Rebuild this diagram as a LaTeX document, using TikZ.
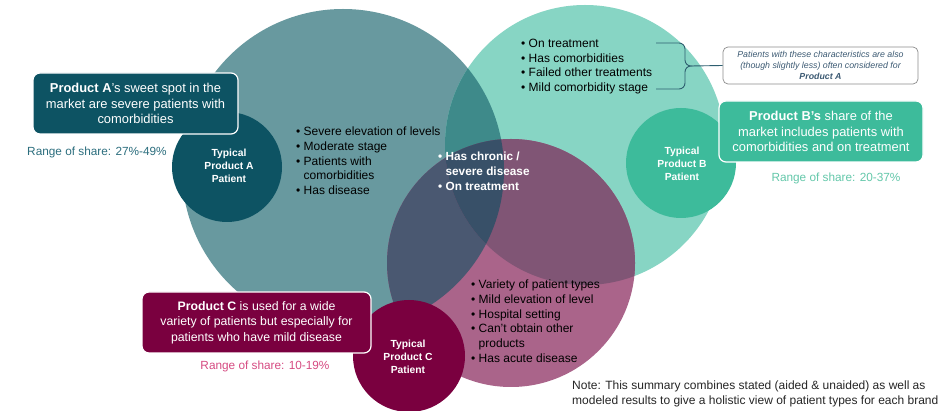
\documentclass[tikz,border=0pt]{standalone}
\usepackage{fontspec}
\setmainfont{Liberation Sans}
\begin{document}
\definecolor{aonly}{HTML}{68999F}
\definecolor{bonly}{HTML}{87D5C4}
\definecolor{conly}{HTML}{AA648A}
\definecolor{ab}{HTML}{3E8A8A}
\definecolor{ac}{HTML}{4A5871}
\definecolor{bc}{HTML}{805575}
\definecolor{abc}{HTML}{385068}
\definecolor{adark}{HTML}{0D5363}
\definecolor{bdark}{HTML}{3DBB9B}
\definecolor{cdark}{HTML}{7A003F}
\definecolor{arange}{HTML}{2C6E7E}
\definecolor{brange}{HTML}{64C8AA}
\definecolor{crange}{HTML}{D64B82}
\definecolor{notetext}{HTML}{3C5A73}
\definecolor{bracecol}{HTML}{2E5F70}
\begin{tikzpicture}[x=1pt,y=-1pt,
  msgbox/.style={rounded corners=7pt, draw=white, line width=1.2pt, align=center,
    text=white, inner sep=0pt, font=\fontsize{12.9}{15.5}\selectfont},
  typical/.style={align=center, text=white, inner sep=0pt,
    font=\fontsize{10.3}{12.8}\selectfont\bfseries},
  bullets/.style={align=left, anchor=north west, inner sep=0pt,
    font=\fontsize{12}{14.7}\selectfont},
  rangetext/.style={inner sep=0pt, font=\fontsize{11.8}{13}\selectfont}]
\useasboundingbox[fill=white] (0,0) rectangle (948,411);

% circle centres and radii
\coordinate (ca) at (343,170);
\coordinate (cb) at (585,145);
\coordinate (cc) at (511,263);
\def\ra{161pt}\def\rb{140pt}\def\rc{124pt}

% single regions
\fill[aonly] (ca) circle (\ra);
\fill[bonly] (cb) circle (\rb);
\fill[conly] (cc) circle (\rc);
% pairwise overlaps
\begin{scope}\clip (ca) circle (\ra); \fill[ab] (cb) circle (\rb);\end{scope}
\begin{scope}\clip (ca) circle (\ra); \fill[ac] (cc) circle (\rc);\end{scope}
\begin{scope}\clip (cb) circle (\rb); \fill[bc] (cc) circle (\rc);\end{scope}
% triple overlap
\begin{scope}\clip (ca) circle (\ra); \clip (cb) circle (\rb); \fill[abc] (cc) circle (\rc);\end{scope}

% typical patient circles
\fill[adark] (227,167) circle (55pt);
\fill[bdark] (681,163) circle (55pt);
\fill[cdark] (409,356) circle (56pt);
\node[typical] (ta) at (229,166) {Typical\\Product A\\Patient};
\node[typical] (tb) at (682,164) {Typical\\Product B\\Patient};
\node[typical] (tc) at (408,357) {Typical\\Product C\\Patient};

% characteristic lists
\node[bullets] (la) at (296,127) {\textbullet\ Severe elevation of levels\\
  \textbullet\ Moderate stage\\
  \textbullet\ Patients with\\
  \phantom{\textbullet\ }comorbidities\\
  \textbullet\ Has disease};
\node[bullets, text=white, font=\fontsize{11.8}{14.7}\selectfont\bfseries] (lm) at (438,152)
  {\textbullet\ Has chronic /\\
  \phantom{\textbullet\ }severe disease\\
  \textbullet\ On treatment};
\node[bullets] (lb) at (521,39) {\textbullet\ On treatment\\
  \textbullet\ Has comorbidities\\
  \textbullet\ Failed other treatments\\
  \textbullet\ Mild comorbidity stage};
\node[bullets] (lc) at (471,280) {\textbullet\ Variety of patient types\\
  \textbullet\ Mild elevation of level\\
  \textbullet\ Hospital setting\\
  \textbullet\ Can't obtain other\\
  \phantom{\textbullet\ }products\\
  \textbullet\ Has acute disease};

% product message boxes
\node[msgbox, fill=adark, minimum width=205pt, minimum height=61pt] (ba) at (135.5,103.5)
  {\textbf{Product A}'s sweet spot in the\\market are severe patients with\\comorbidities};
\node[rangetext, text=arange] (ra) at (97,152) {Range of share: 27\%-49\%};

\node[msgbox, fill=bdark, minimum width=204pt, minimum height=61pt] (bb) at (821,131.5)
  {\textbf{Product B's} share of the\\market includes patients with\\comorbidities and on treatment};
\node[rangetext, text=brange] (rb) at (836,178) {Range of share: 20-37\%};

\node[msgbox, fill=cdark, minimum width=229pt, minimum height=61pt,
  font=\fontsize{12.3}{15.5}\selectfont] (bcx) at (256.5,322.5)
  {\textbf{Product C} is used for a wide\\variety of patients but especially for\\patients who have mild disease};
\node[rangetext, text=crange] (rc) at (265,366) {Range of share: 10-19\%};

% side note with brace
\node[rounded corners=5pt, draw=black!45, line width=0.7pt, fill=white, align=center,
  text=notetext, inner sep=0pt, minimum width=195pt, minimum height=37pt,
  font=\fontsize{8.8}{11}\selectfont\itshape] (nt) at (820.5,65.5)
  {Patients with these characteristics are also\\(though slightly less) often considered for\\\textbf{Product A}};
\draw[bracecol, line width=0.9pt]
  (656,43) -- (679,43) to[out=0,in=90] (685,49) -- (685,60) to[out=-90,in=180] (691,66)
  to[out=180,in=90] (685,72) -- (685,83) to[out=-90,in=0] (679,89) -- (656,89);
\draw[bracecol, line width=0.9pt] (691,66) -- (nt.west);

% footnote
\node[align=left, anchor=north west, inner sep=0pt, text=black!85,
  font=\fontsize{12}{15}\selectfont] (fn) at (572,381)
  {Note: This summary combines stated (aided \& unaided) as well as\\
   modeled results to give a holistic view of patient types for each brand};
\end{tikzpicture}
\end{document}
